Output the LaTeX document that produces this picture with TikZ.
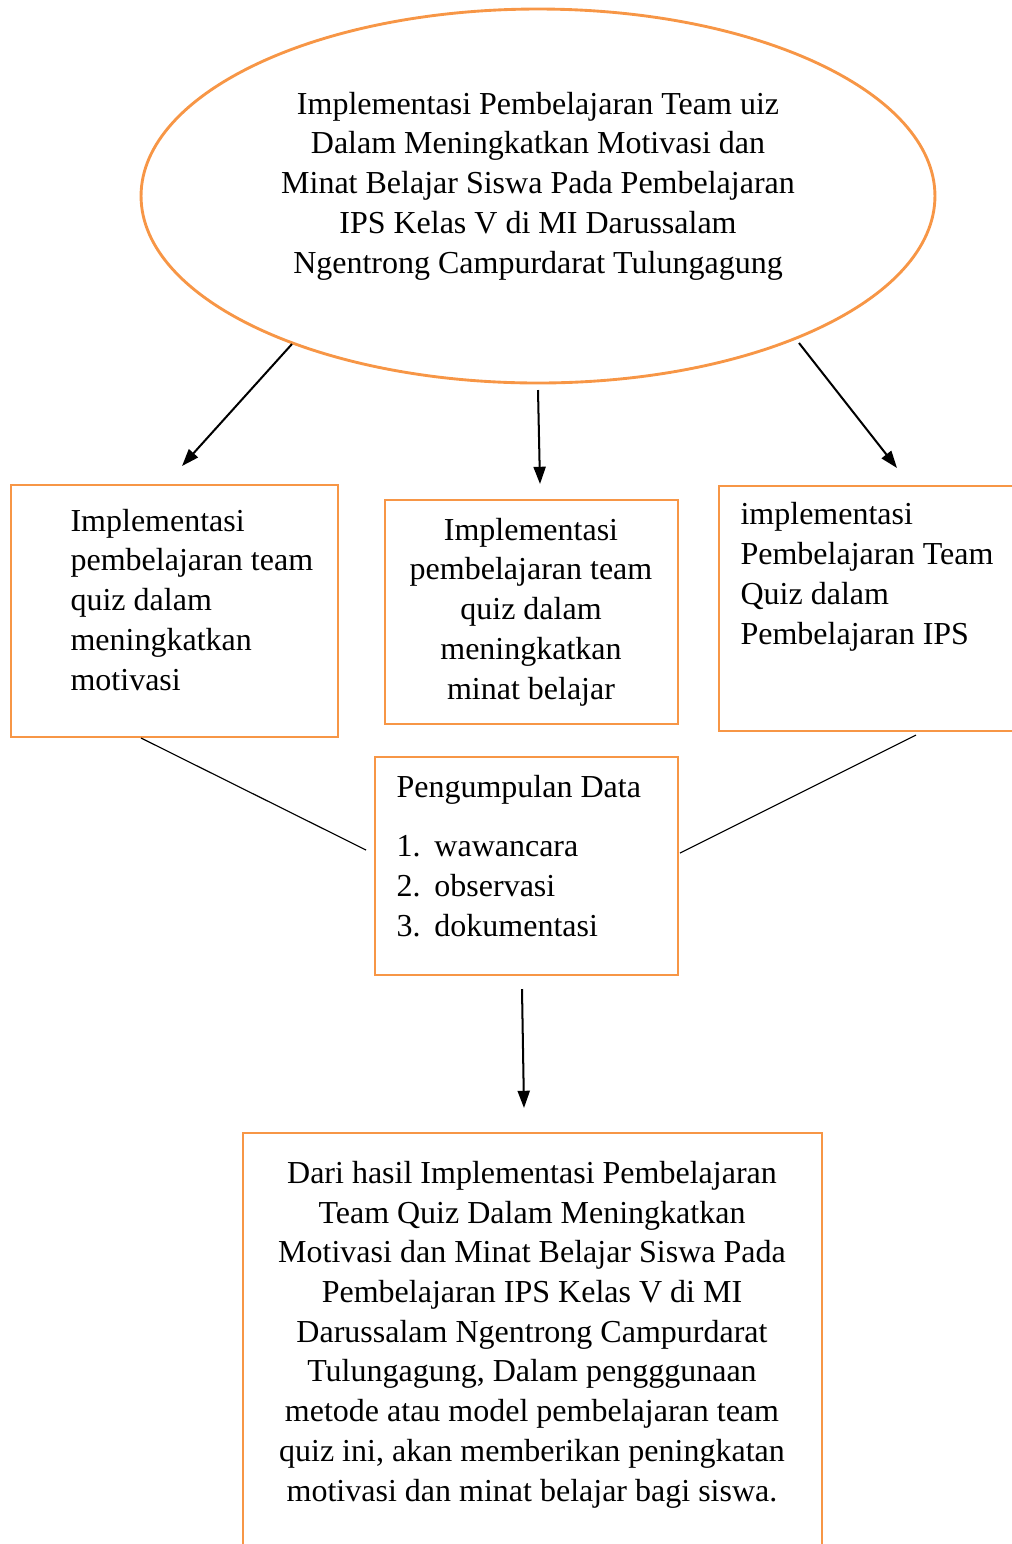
\documentclass[tikz,border=0pt]{standalone}
\usepackage{fontspec}
\setmainfont{Liberation Serif}
\usetikzlibrary{shapes.geometric,fit,arrows.meta}
\definecolor{boxorange}{RGB}{247,150,70}
\tikzset{
  orangebox/.style={draw=boxorange,line width=1pt,inner sep=0pt,fill=none},
  txt/.style={inner sep=0pt,font=\fontsize{11.15}{13.83}\selectfont},
  arr/.style={draw=black,line width=0.7pt,-{Triangle[length=6pt,width=4.2pt]}},
  thin/.style={draw=black,line width=0.4pt}
}
\begin{document}
\begin{tikzpicture}[x=0.3484pt,y=-0.3484pt]
\clip (0,0) rectangle (1012,1544);
\useasboundingbox (0,0) rectangle (1012,1544);
% top ellipse
\node[ellipse,orangebox,minimum width=276.6pt,minimum height=130.3pt] (top) at (538,196) {};
\node[txt,align=center,anchor=base] (toptext) at (538,273)
 {Implementasi Pembelajaran Team uiz\\Dalam Meningkatkan Motivasi dan\\Minat Belajar Siswa Pada Pembelajaran\\IPS Kelas V di MI Darussalam\\Ngentrong Campurdarat Tulungagung};
% three boxes
\node[orangebox,fit={(11,485) (338,737)}] (b1) {};
\node[orangebox,fit={(385,500) (678,724)}] (b2) {};
\node[orangebox,fit={(719,486) (1040,731)}] (b3) {};
\node[txt,align=left,anchor=base west] (t1) at (70,690)
 {Implementasi\\pembelajaran team\\quiz dalam\\meningkatkan\\motivasi};
\node[txt,align=center,anchor=base] (t2) at (531,699)
 {Implementasi\\pembelajaran team\\quiz dalam\\meningkatkan\\minat belajar};
\node[txt,align=left,anchor=base west] (t3) at (740,644)
 {implementasi\\Pembelajaran Team\\Quiz dalam\\Pembelajaran IPS};
% data collection box
\node[orangebox,fit={(375,757) (678,975)}] (b4) {};
\node[txt,anchor=base west] (t4) at (396,797) {Pengumpulan Data};
\node[txt,align=left,anchor=base west] (t4list) at (396,936)
 {\makebox[13.2pt][l]{1.}wawancara\\\makebox[13.2pt][l]{2.}observasi\\\makebox[13.2pt][l]{3.}dokumentasi};
% bottom box
\node[orangebox,fit={(243,1133) (822,1570)}] (b5) {};
\node[txt,align=center,anchor=base] (t5) at (532,1501)
 {Dari hasil Implementasi Pembelajaran\\Team Quiz Dalam Meningkatkan\\Motivasi dan Minat Belajar Siswa Pada\\Pembelajaran IPS Kelas V di MI\\Darussalam Ngentrong Campurdarat\\Tulungagung, Dalam pengggunaan\\metode atau model pembelajaran team\\quiz ini, akan memberikan peningkatan\\motivasi dan minat belajar bagi siswa.};
% connector coordinates
\coordinate (a1s) at (292,344);
\coordinate (a1e) at (182,466);
\coordinate (a2s) at (538,390);
\coordinate (a2e) at (540,484);
\coordinate (a3s) at (799,343);
\coordinate (a3e) at (897,468);
\coordinate (a4s) at (522,989);
\coordinate (a4e) at (524,1108);
\coordinate (l1s) at (141,738);
\coordinate (l1e) at (366,850);
\coordinate (l2s) at (916,735);
\coordinate (l2e) at (680,853);
\draw[arr] (a1s) -- (a1e);
\draw[arr] (a2s) -- (a2e);
\draw[arr] (a3s) -- (a3e);
\draw[arr] (a4s) -- (a4e);
\draw[thin] (l1s) -- (l1e);
\draw[thin] (l2s) -- (l2e);
\end{tikzpicture}
\end{document}
